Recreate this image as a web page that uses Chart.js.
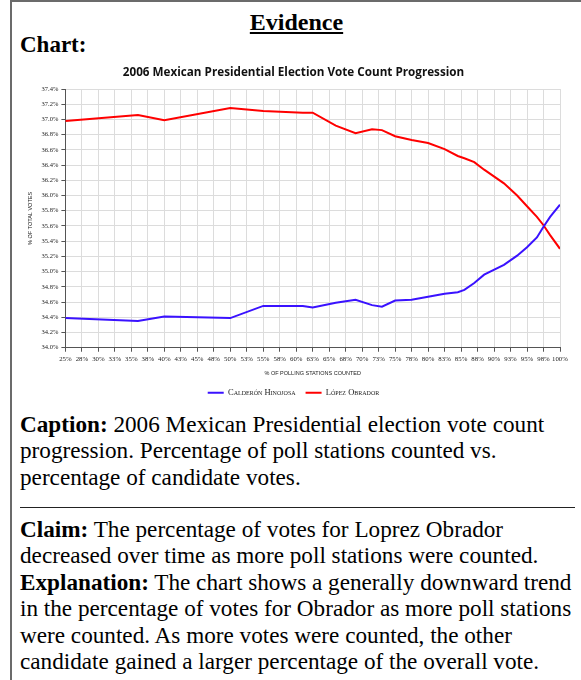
<!DOCTYPE html>
<html>
<head>
<meta charset="utf-8">
<script src="https://cdn.jsdelivr.net/npm/chart.js@4.4.1/dist/chart.umd.min.js"></script>
<style>
  body { margin: 0; background: #fff; color: #000; font-family: "Liberation Serif", "Times New Roman", serif; }
  #page { position: relative; width: 581px; height: 680px; overflow: hidden; }
  #frame { position: absolute; left: 10px; top: 0; width: 620px; height: 720px; border-left: 2px solid #6b6b6b; border-top: 2px solid #6b6b6b; }
  .evidence { position: absolute; left: 12px; width: 569px; top: 9px; text-align: center; font-weight: bold; font-size: 24px; line-height: 27.6px; text-decoration: underline; text-underline-offset: 2px; }
  .label { position: absolute; left: 20px; top: 32px; font-weight: bold; font-size: 23px; line-height: 26.4px; }
  #chartBox { position: absolute; left: 18px; top: 60px; width: 562px; height: 347px; }
  .text { position: absolute; left: 20px; width: 560px; font-size: 23.2px; line-height: 26.4px; }
  .caption { top: 411px; }
  .claim { top: 516px; }
  hr { position: absolute; left: 20px; top: 507px; width: 555px; margin: 0; border: 0; border-top: 1px solid #222; }
</style>
</head>
<body>
<div id="page">
  <div id="frame"></div>
  <div class="evidence">Evidence</div>
  <div class="label">Chart:</div>
  <div id="chartBox"><canvas id="voteChart"></canvas></div>
  <div class="text caption"><b>Caption:</b> 2006 Mexican Presidential election vote count progression. Percentage of poll stations counted vs. percentage of candidate votes.</div>
  <hr>
  <div class="text claim"><b>Claim:</b> The percentage of votes for Loprez Obrador decreased over time as more poll stations were counted.<br><b>Explanation:</b> The chart shows a generally downward trend in the percentage of votes for Obrador as more poll stations were counted. As more votes were counted, the other candidate gained a larger percentage of the overall vote.</div>
</div>

<script>
// % of polling stations counted (x) and share of the vote for each candidate
const stationsCounted = [25, 36, 40, 50, 55, 61, 62.5, 66, 69, 71.5, 73, 75, 77.5, 80, 82.5, 84.5, 85.5, 87, 88.5, 91.5, 93.5, 95, 96.5, 97.5, 98.5, 100];
const calderon = [34.39, 34.35, 34.41, 34.39, 34.55, 34.55, 34.53, 34.59, 34.63, 34.56, 34.54, 34.62, 34.63, 34.67, 34.71, 34.73, 34.76, 34.85, 34.96, 35.09, 35.21, 35.32, 35.45, 35.59, 35.72, 35.88];
const lopez = [36.98, 37.06, 36.99, 37.15, 37.11, 37.09, 37.09, 36.92, 36.82, 36.87, 36.86, 36.78, 36.73, 36.69, 36.61, 36.52, 36.49, 36.44, 36.34, 36.16, 36.00, 35.86, 35.72, 35.61, 35.48, 35.30];
const seriesNames = ['Calderón Hinojosa', 'López Obrador'];

const toPoints = vals => vals.map((v, i) => ({ x: stationsCounted[i], y: v }));

const serif = "'Liberation Serif', 'Times New Roman', serif";
const sans = "'Liberation Sans', Arial, sans-serif";

const ctx = document.getElementById('voteChart').getContext('2d');

let voteChart = new Chart(ctx, {
  type: 'line',
  data: {
    datasets: [{
      label: seriesNames[0],
      data: toPoints(calderon),
      borderColor: '#3a12ff',
      backgroundColor: '#3a12ff',
      borderWidth: 2,
      pointRadius: 0,
      tension: 0
    }, {
      label: seriesNames[1],
      data: toPoints(lopez),
      borderColor: '#ff0000',
      backgroundColor: '#ff0000',
      borderWidth: 2,
      pointRadius: 0,
      tension: 0
    }]
  },
  options: {
    responsive: true,
    maintainAspectRatio: false,
    animation: false,
    layout: { padding: { left: 9, right: 20, top: 0, bottom: 0 } },
    plugins: {
      title: {
        display: true,
        text: '2006 Mexican Presidential Election Vote Count Progression',
        color: '#111',
        font: { family: "'Open Sans', sans-serif", size: 11.7, weight: 'bold' },
        padding: { top: 6, bottom: 9 }
      },
      legend: {
        position: 'bottom',
        labels: {
          boxWidth: 16,
          boxHeight: 2,
          padding: 10,
          color: '#222',
          font: { family: serif, size: 8.5, weight: 'small-caps' },
          generateLabels: chart => Chart.defaults.plugins.legend.labels.generateLabels(chart)
            .map(item => ({ ...item, lineWidth: 0 }))
        }
      },
      tooltip: { enabled: false }
    },
    scales: {
      x: {
        type: 'linear',
        min: 25,
        max: 100,
        ticks: {
          stepSize: 2.5,
          autoSkip: false,
          maxRotation: 0,
          padding: 3,
          color: '#222',
          font: { family: serif, size: 6.8 },
          callback: v => Math.round(v) + '%'
        },
        grid: { color: '#dcdcdc', tickColor: '#555', tickLength: 4 },
        border: { color: '#555' },
        title: {
          display: true,
          text: '% OF POLLING STATIONS COUNTED',
          color: '#222',
          font: { family: sans, size: 5.5 },
          padding: { top: 4, bottom: 2 }
        }
      },
      y: {
        min: 34,
        max: 37.4,
        ticks: {
          stepSize: 0.2,
          padding: 3,
          color: '#222',
          font: { family: serif, size: 6.5 },
          callback: v => v.toFixed(1) + '%'
        },
        grid: { color: '#dcdcdc', tickColor: '#555', tickLength: 4 },
        border: { color: '#555' },
        title: {
          display: true,
          text: '% OF TOTAL VOTES',
          color: '#222',
          font: { family: sans, size: 5.5 },
          padding: { top: 0, bottom: 5 }
        }
      }
    }
  }
});
</script>
</body>
</html>
